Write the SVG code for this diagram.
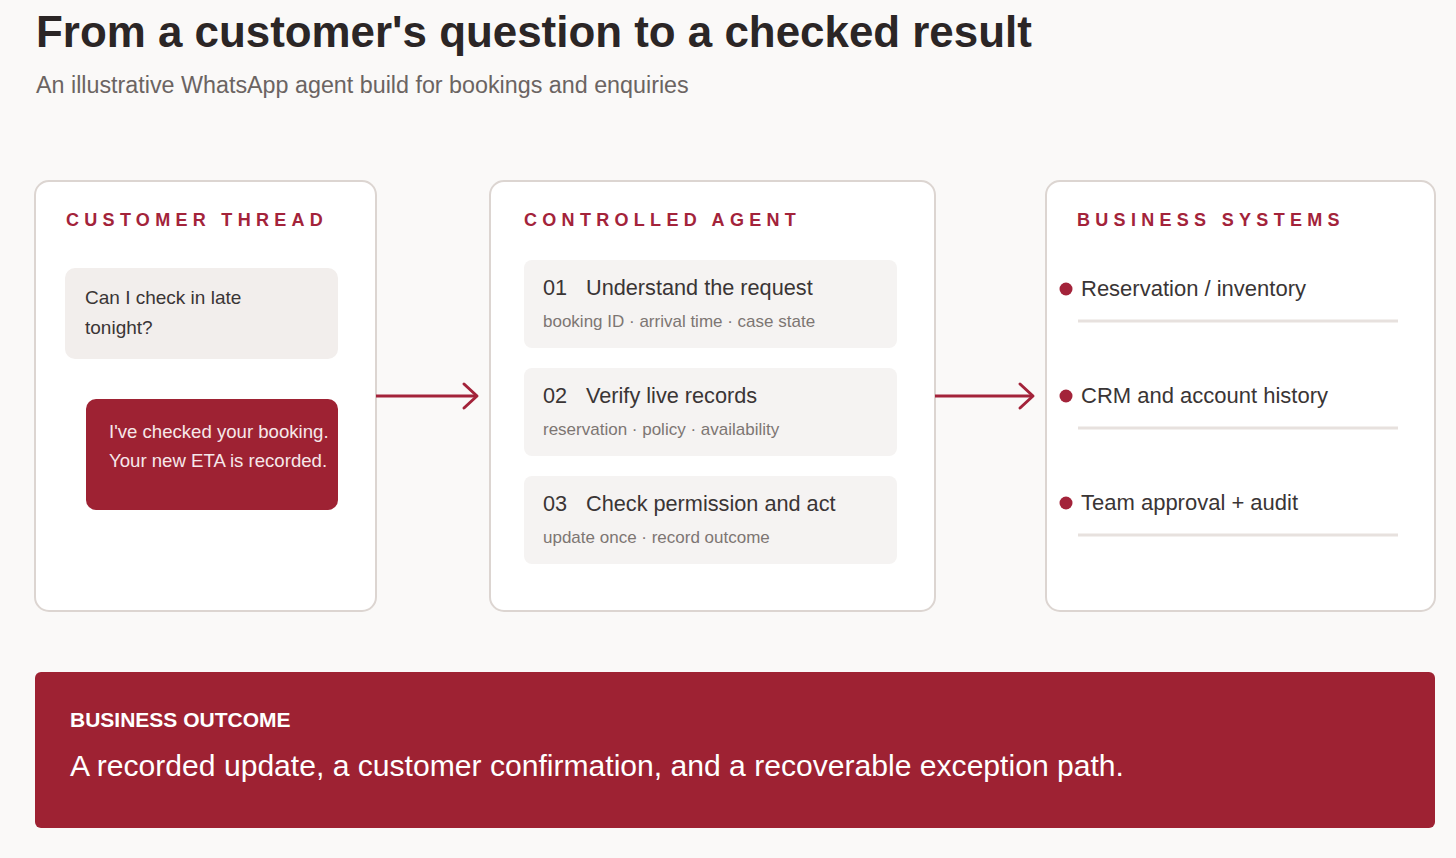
<svg xmlns="http://www.w3.org/2000/svg" width="1456" height="858" viewBox="0 0 1456 858">
<defs>
<style>
.bg{fill:#faf9f8}
.panel{fill:#ffffff;stroke:#dcd5d1;stroke-width:2}
.t{font-family:"Liberation Sans",Arial,sans-serif}
.title{font-size:43.9px;font-weight:bold;fill:#2b2626}
.sub{font-size:23.3px;fill:#6b6462}
.head{font-size:18px;font-weight:bold;fill:#a3233a;letter-spacing:5.3px}
.bubble-q{fill:#f2eeec}
.bubble-a{fill:#9e2233}
.qtxt{font-size:19px;fill:#3a3535}
.atxt{font-size:18.6px;fill:#f6e8ea}
.card{fill:#f5f3f2}
.num{font-size:21.7px;fill:#3a3535}
.ctitle{font-size:21.7px;fill:#3a3535}
.csub{font-size:17px;fill:#7d7673}
.dot{fill:#a3233a}
.stxt{font-size:22px;fill:#3a3535}
.sep{stroke:#e7e1de;stroke-width:3}
.conn{stroke:#a3233a;stroke-width:3;fill:none}
.banner{fill:#9e2233}
.btitle{font-size:21px;font-weight:bold;fill:#ffffff}
.btxt{font-size:30.1px;fill:#ffffff}
</style>
</defs>
<rect class="bg" x="0" y="0" width="1456" height="858"/>
<g id="header">
<text class="t title" x="36" y="47">From a customer's question to a checked result</text>
<text class="t sub" x="36" y="93">An illustrative WhatsApp agent build for bookings and enquiries</text>
</g>
<g id="customer-thread">
<rect class="panel" x="35" y="181" width="341" height="430" rx="14"/>
<text class="t head" x="66" y="226">CUSTOMER THREAD</text>
<rect class="bubble-q" x="65" y="268" width="273" height="91" rx="10"/>
<text class="t qtxt" x="85" y="304">Can I check in late</text>
<text class="t qtxt" x="85" y="334">tonight?</text>
<rect class="bubble-a" x="86" y="399" width="252" height="111" rx="10"/>
<text class="t atxt" x="109" y="438">I've checked your booking.</text>
<text class="t atxt" x="109" y="467">Your new ETA is recorded.</text>
</g>
<g id="controlled-agent">
<rect class="panel" x="490" y="181" width="445" height="430" rx="14"/>
<text class="t head" x="524" y="226">CONTROLLED AGENT</text>
<g id="step-01">
<rect class="card" x="524" y="260" width="373" height="88" rx="8"/>
<text class="t num" x="543" y="295">01</text>
<text class="t ctitle" x="586" y="295">Understand the request</text>
<text class="t csub" x="543" y="327">booking ID · arrival time · case state</text>
</g>
<g id="step-02">
<rect class="card" x="524" y="368" width="373" height="88" rx="8"/>
<text class="t num" x="543" y="403">02</text>
<text class="t ctitle" x="586" y="403">Verify live records</text>
<text class="t csub" x="543" y="435">reservation · policy · availability</text>
</g>
<g id="step-03">
<rect class="card" x="524" y="476" width="373" height="88" rx="8"/>
<text class="t num" x="543" y="511">03</text>
<text class="t ctitle" x="586" y="511">Check permission and act</text>
<text class="t csub" x="543" y="543">update once · record outcome</text>
</g>
</g>
<g id="business-systems">
<rect class="panel" x="1046" y="181" width="389" height="430" rx="14"/>
<text class="t head" x="1077" y="226">BUSINESS SYSTEMS</text>
<circle class="dot" cx="1066" cy="289" r="6.5"/>
<text class="t stxt" x="1081" y="296">Reservation / inventory</text>
<line class="sep" x1="1078" y1="321" x2="1398" y2="321"/>
<circle class="dot" cx="1066" cy="396" r="6.5"/>
<text class="t stxt" x="1081" y="403">CRM and account history</text>
<line class="sep" x1="1078" y1="428" x2="1398" y2="428"/>
<circle class="dot" cx="1066" cy="503" r="6.5"/>
<text class="t stxt" x="1081" y="510">Team approval + audit</text>
<line class="sep" x1="1078" y1="535" x2="1398" y2="535"/>
</g>
<g id="connectors">
<line class="conn" x1="376" y1="396" x2="477" y2="396"/>
<polyline class="conn" points="464,384 477,396 464,408" stroke-linecap="round" stroke-linejoin="round"/>
<line class="conn" x1="935" y1="396" x2="1033" y2="396"/>
<polyline class="conn" points="1020,384 1033,396 1020,408" stroke-linecap="round" stroke-linejoin="round"/>
</g>
<g id="business-outcome">
<rect class="banner" x="35" y="672" width="1400" height="156" rx="6"/>
<text class="t btitle" x="70" y="727">BUSINESS OUTCOME</text>
<text class="t btxt" x="70" y="776">A recorded update, a customer confirmation, and a recoverable exception path.</text>
</g>
</svg>
